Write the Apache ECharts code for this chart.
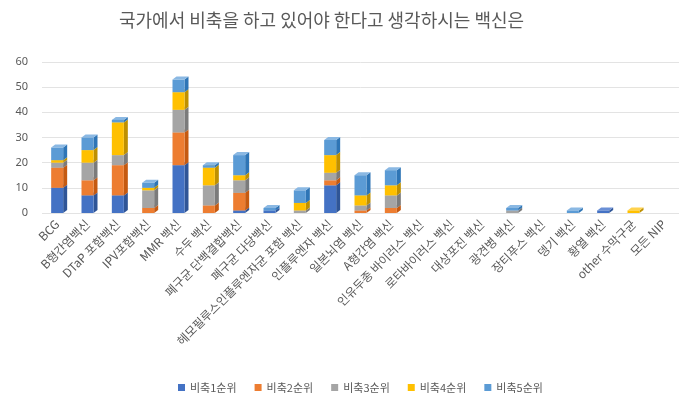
<!DOCTYPE html>
<html>
<head>
<meta charset="utf-8">
<script src="https://cdn.jsdelivr.net/npm/echarts@6/dist/echarts.min.js"></script>
<style>
  html, body { margin: 0; padding: 0; background: #fff; }
  #main { width: 699px; height: 399px; }
</style>
</head>
<body>
<div id="main"></div>
<script>
var categories = ['BCG', 'B형간염백신', 'DTaP 포함백신', 'IPV포함백신', 'MMR 백신', '수두 백신',
  '폐구균 단백결합백신', '폐구균 다당백신', '헤모필루스인플루엔자균 포함 백신', '인플루엔자 백신',
  '일본뇌염 백신', 'A형간염 백신', '인유두종 바이러스 백신', '로타바이러스 백신', '대상포진 백신',
  '광견병 백신', '장티푸스 백신', '뎅기 백신', '황열 백신', 'other 수막구균', '모든 NIP'];
var seriesNames = ['비축1순위', '비축2순위', '비축3순위', '비축4순위', '비축5순위'];
var rank1 = [10, 7, 7, 0, 19, 0, 1, 1, 0, 11, 0, 0, 0, 0, 0, 0, 0, 0, 1, 0, 0];
var rank2 = [8, 6, 12, 2, 13, 3, 7, 0, 0, 2, 1, 2, 0, 0, 0, 0, 0, 0, 0, 0, 0];
var rank3 = [2, 7, 4, 7, 9, 8, 5, 0, 1, 3, 2, 5, 0, 0, 0, 1, 0, 0, 0, 0, 0];
var rank4 = [1, 5, 13, 1, 7, 7, 2, 0, 3, 7, 4, 4, 0, 0, 0, 0, 0, 0, 0, 1, 0];
var rank5 = [5, 5, 1, 2, 5, 1, 8, 1, 5, 6, 8, 6, 0, 0, 0, 1, 0, 1, 0, 0, 0];
var yTicks = [0, 10, 20, 30, 40, 50, 60];

var allRanks = [rank1, rank2, rank3, rank4, rank5];
var colors = ['#4472C4', '#ED7D31', '#A5A5A5', '#FFC000', '#5B9BD5'];
var sides = ['#2F5597', '#C55A11', '#7B7B7B', '#BF9000', '#2E75B6'];
var tops = ['#6A8FD6', '#F29D63', '#C4C4C4', '#FFD24D', '#8AB8E3'];

var chart = echarts.init(document.getElementById('main'));

// stacked 3d-look boxes
var base = categories.map(function () { return 0; });
var series = allRanks.map(function (vals, s) {
  var data = vals.map(function (v, i) {
    var item = [i, base[i], base[i] + v, v];
    base[i] += v;
    return item;
  });
  return {
    name: seriesNames[s],
    type: 'custom',
    itemStyle: { color: colors[s] },
    encode: { x: 0, y: [1, 2] },
    renderItem: function (params, api) {
      if (api.value(3) <= 0) return null;
      var p0 = api.coord([api.value(0), api.value(1)]);
      var p1 = api.coord([api.value(0), api.value(2)]);
      var w = 12, dx = 4, dy = -3;
      var x0 = p0[0] - w / 2, x1 = p0[0] + w / 2;
      return {
        type: 'group',
        children: [
          { type: 'polygon', shape: { points: [[x1, p1[1]], [x1 + dx, p1[1] + dy], [x1 + dx, p0[1] + dy], [x1, p0[1]]] },
            style: { fill: sides[s] } },
          { type: 'polygon', shape: { points: [[x0, p1[1]], [x0 + dx, p1[1] + dy], [x1 + dx, p1[1] + dy], [x1, p1[1]]] },
            style: { fill: tops[s] } },
          { type: 'rect', shape: { x: x0, y: p1[1], width: w, height: p0[1] - p1[1] },
            style: { fill: colors[s] } }
        ]
      };
    },
    data: data
  };
});

var option = {
  animation: false,
  title: {
    text: '국가에서 비축을 하고 있어야 한다고 생각하시는 백신은',
    left: 114,
    top: 6,
    textStyle: { color: '#595959', fontSize: 18, fontWeight: 'normal', fontFamily: 'Noto Sans CJK KR' }
  },
  legend: {
    data: seriesNames,
    left: 173,
    top: 377,
    icon: 'rect',
    itemWidth: 7,
    itemHeight: 7,
    itemGap: 18,
    textStyle: { color: '#595959', fontSize: 11, fontFamily: 'Noto Sans CJK KR' }
  },
  grid: { left: 42, right: 20, top: 62, bottom: 186 },
  xAxis: {
    type: 'category',
    data: categories,
    axisLine: { show: false },
    axisTick: { show: false },
    axisLabel: {
      interval: 0,
      rotate: 45,
      margin: 9,
      color: '#595959',
      fontSize: 12,
      fontFamily: 'Noto Sans CJK KR'
    }
  },
  yAxis: {
    type: 'value',
    min: yTicks[0],
    max: yTicks[yTicks.length - 1],
    interval: 10,
    axisLine: { show: false },
    axisTick: { show: false },
    axisLabel: { color: '#595959', fontSize: 11, margin: 14, fontFamily: 'Noto Sans' },
    splitLine: { lineStyle: { color: '#E3E3E3' } }
  },
  series: series
};

chart.setOption(option);
</script>
</body>
</html>
